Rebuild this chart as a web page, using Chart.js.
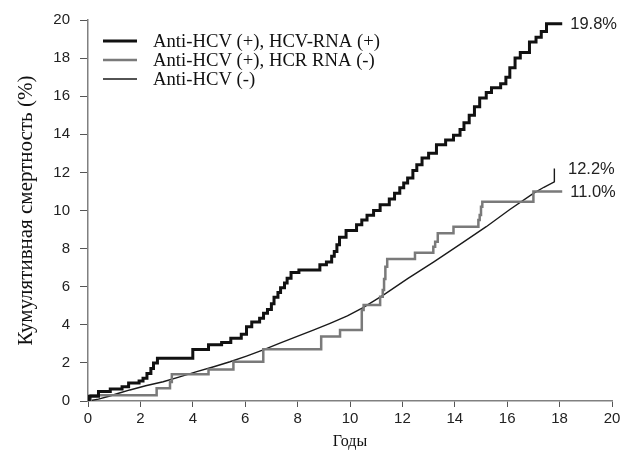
<!DOCTYPE html>
<html>
<head>
<meta charset="utf-8">
<script src="https://cdn.jsdelivr.net/npm/chart.js@4/dist/chart.umd.min.js"></script>
<style>
  body { margin: 0; background: #fff; }
  #wrap { width: 632px; height: 469px; }
</style>
</head>
<body>
<div id="wrap"><canvas id="survChart" width="632" height="469"></canvas></div>
<script>
// Anti-HCV (+), HCV-RNA (+)  -- step points (time in years, cumulative %)
const posPosT = [0, 0.05, 0.4, 0.85, 1.3, 1.55, 1.95, 2.1, 2.25, 2.4, 2.5, 2.65, 4.0, 4.6, 5.1, 5.45, 5.85, 6.05, 6.25, 6.55, 6.7, 6.85, 7.0, 7.1, 7.25, 7.35, 7.5, 7.6, 7.75, 8.05, 8.85, 9.1, 9.3, 9.4, 9.5, 9.6, 9.85, 10.25, 10.45, 10.65, 10.9, 11.15, 11.5, 11.7, 11.9, 12.05, 12.2, 12.4, 12.55, 12.75, 13.0, 13.3, 13.65, 13.95, 14.2, 14.35, 14.55, 14.75, 14.95, 15.2, 15.4, 15.75, 15.95, 16.1, 16.3, 16.5, 16.85, 17.1, 17.3, 17.5, 18.1];
const posPosV = [0, 0.25, 0.5, 0.63, 0.75, 0.94, 1.05, 1.2, 1.45, 1.7, 2.0, 2.25, 2.7, 2.95, 3.07, 3.3, 3.5, 3.9, 4.15, 4.35, 4.6, 4.8, 5.1, 5.45, 5.7, 5.95, 6.2, 6.45, 6.75, 6.88, 7.15, 7.3, 7.6, 7.85, 8.2, 8.6, 8.95, 9.25, 9.5, 9.75, 10.0, 10.3, 10.6, 10.9, 11.2, 11.45, 11.7, 12.1, 12.4, 12.75, 13.0, 13.45, 13.7, 13.95, 14.25, 14.6, 15.0, 15.45, 15.9, 16.2, 16.45, 16.65, 17.0, 17.5, 18.0, 18.3, 18.85, 19.1, 19.4, 19.8, 19.8];

// Anti-HCV (+), HCR RNA (-)
const posNegT = [0, 0.1, 2.62, 3.13, 3.2, 4.6, 5.55, 6.69, 8.9, 9.62, 10.45, 10.52, 11.15, 11.25, 11.3, 11.35, 11.42, 12.48, 13.18, 13.25, 13.35, 13.95, 14.9, 14.95, 15.0, 15.05, 17.0, 18.1];
const posNegV = [0, 0.3, 0.67, 1.0, 1.4, 1.66, 2.06, 2.72, 3.38, 3.73, 4.78, 5.04, 5.47, 5.83, 6.4, 7.05, 7.45, 7.78, 8.1, 8.36, 8.8, 9.15, 9.5, 9.76, 10.2, 10.46, 11.0, 11.0];

// Anti-HCV (-)
const negT = [0, 0.4, 0.8, 1.2, 1.6, 2.2, 2.87, 3.5, 4.15, 4.8, 5.42, 6.05, 6.69, 7.3, 7.96, 8.6, 9.24, 9.9, 10.5, 11.27, 12.2, 13.2, 14.2, 15.2, 16.1, 17.0, 17.4, 17.8, 17.8];
const negV = [0, 0.1, 0.25, 0.42, 0.58, 0.8, 1.01, 1.27, 1.54, 1.8, 2.06, 2.36, 2.68, 3.02, 3.38, 3.72, 4.08, 4.47, 4.9, 5.56, 6.42, 7.3, 8.22, 9.15, 10.05, 10.9, 11.22, 11.5, 12.2];

const seriesNames = ['Anti-HCV (+), HCV-RNA (+)', 'Anti-HCV (+), HCR RNA (-)', 'Anti-HCV (-)'];
const endLabels = ['19.8%', '11.0%', '12.2%'];
const xTicks = [0, 2, 4, 6, 8, 10, 12, 14, 16, 18, 20];

function pts(ts, vs) {
    return ts.map((t, i) => ({ x: t, y: vs[i] }));
}

const legendAndLabels = {
    id: 'legendAndLabels',
    afterDatasetsDraw(chart) {
        const ctx = chart.ctx;
        const xs = chart.scales.x, ys = chart.scales.y;
        ctx.save();
        // legend in the top-left corner
        chart.data.datasets.forEach((ds, i) => {
            const y = 41 + i * 19;
            ctx.strokeStyle = ds.borderColor;
            ctx.lineWidth = ds.borderWidth;
            ctx.beginPath();
            ctx.moveTo(103, y);
            ctx.lineTo(137, y);
            ctx.stroke();
            ctx.fillStyle = '#111';
            ctx.font = '18.7px "Liberation Serif"';
            ctx.textBaseline = 'middle';
            ctx.textAlign = 'left';
            ctx.fillText(ds.label, 153, y + 1);
        });
        // end-of-curve percentages
        ctx.font = '16.5px "Liberation Sans"';
        ctx.fillStyle = '#222';
        chart.data.datasets.forEach((ds, i) => {
            const last = ds.data[ds.data.length - 1];
            const px = xs.getPixelForValue(last.x) + 8;
            const py = ys.getPixelForValue(last.y);
            ctx.fillText(endLabels[i], Math.max(px, 568), py + 1);
        });
        ctx.restore();
    }
};

new Chart(document.getElementById('survChart'), {
    type: 'line',
    data: {
        datasets: [{
            label: seriesNames[0],
            data: pts(posPosT, posPosV),
            borderColor: '#111',
            borderWidth: 3,
            stepped: 'before',
            pointRadius: 0
        }, {
            label: seriesNames[1],
            data: pts(posNegT, posNegV),
            borderColor: '#7a7a7a',
            borderWidth: 2.5,
            stepped: 'before',
            pointRadius: 0
        }, {
            label: seriesNames[2],
            data: pts(negT, negV),
            borderColor: '#1a1a1a',
            borderWidth: 1.4,
            tension: 0,
            pointRadius: 0
        }]
    },
    options: {
        responsive: false,
        animation: false,
        layout: { padding: { left: 0, right: 20, top: 20, bottom: 16 } },
        plugins: {
            legend: { display: false },
            tooltip: { enabled: false }
        },
        scales: {
            x: {
                type: 'linear',
                min: 0,
                max: 20,
                afterBuildTicks: s => { s.ticks = xTicks.map(v => ({ value: v })); },
                afterFit: s => { s.height = 52; },
                border: { color: '#808080', width: 1.5 },
                grid: { drawOnChartArea: false, tickLength: 6, tickColor: '#555' },
                ticks: { color: '#222', padding: 3, maxRotation: 0, font: { family: 'Liberation Sans', size: 15 } },
                title: { display: true, text: 'Годы', color: '#111', padding: { top: 4, bottom: 2 }, font: { family: 'Liberation Serif', size: 16 } }
            },
            y: {
                min: 0,
                max: 20,
                afterFit: s => { s.width = 88; },
                border: { color: '#808080', width: 1.5 },
                grid: { drawOnChartArea: false, tickLength: 8, tickColor: '#555' },
                ticks: { stepSize: 2, color: '#222', padding: 10, font: { family: 'Liberation Sans', size: 15 } },
                title: { display: true, text: 'Кумулятивная смертность (%)', color: '#111', padding: { top: 14, bottom: 0 }, font: { family: 'Liberation Serif', size: 21 } }
            }
        }
    },
    plugins: [legendAndLabels]
});
</script>
</body>
</html>
